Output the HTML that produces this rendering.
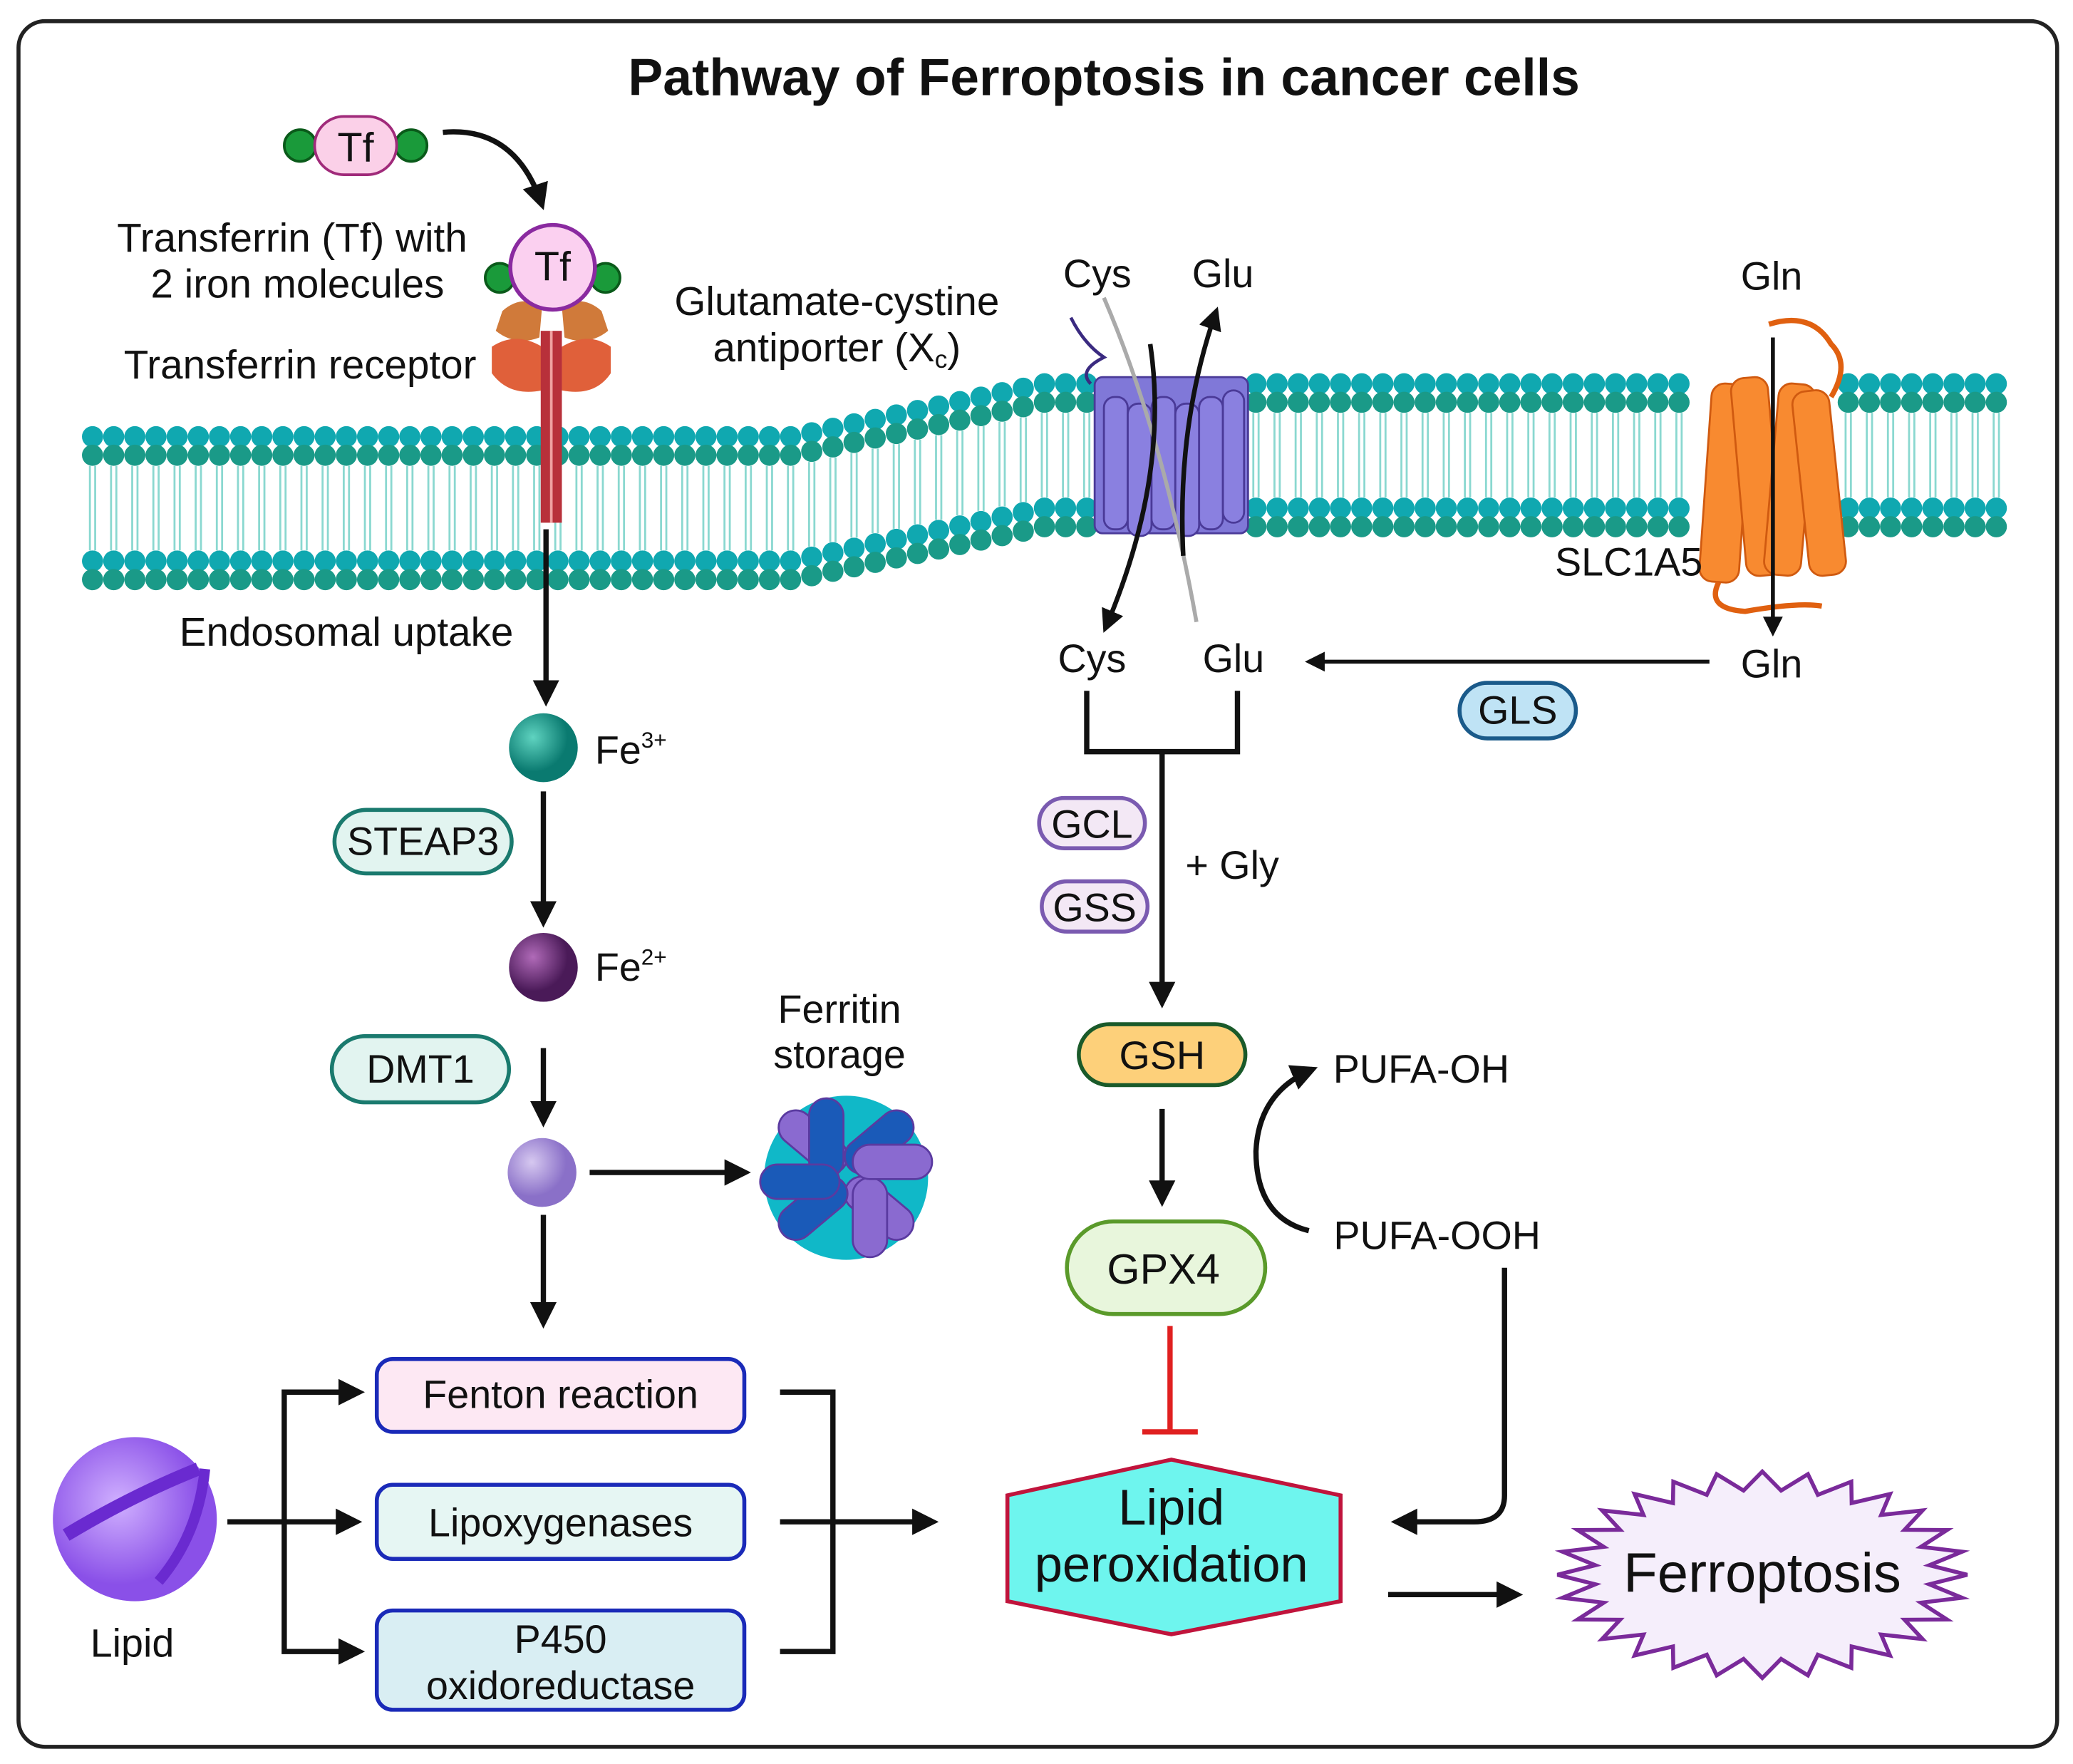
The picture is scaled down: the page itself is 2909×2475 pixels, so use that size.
<!DOCTYPE html>
<html><head><meta charset="utf-8"><style>
html,body{margin:0;padding:0;background:#fff}
svg{display:block}
text{font-family:"Liberation Sans",sans-serif;fill:#111}
</style></head><body>
<svg id="s" width="2909" height="2475" viewBox="0 0 1568 1333" preserveAspectRatio="none" xmlns="http://www.w3.org/2000/svg">
<defs>
<marker id="a" viewBox="0 0 10 10" refX="8" refY="5" markerWidth="5" markerHeight="5" orient="auto"><path d="M0,0L10,5L0,10z" fill="#111"/></marker>
<radialGradient id="g1" cx="35%" cy="35%"><stop offset="0" stop-color="#5fd3c0"/><stop offset="1" stop-color="#0a7a70"/></radialGradient>
<radialGradient id="g2" cx="35%" cy="35%"><stop offset="0" stop-color="#b06ab8"/><stop offset="1" stop-color="#4a1a58"/></radialGradient>
<radialGradient id="g3" cx="35%" cy="35%"><stop offset="0" stop-color="#d6c8f0"/><stop offset="1" stop-color="#8a70c8"/></radialGradient>
<radialGradient id="g4" cx="40%" cy="40%"><stop offset="0" stop-color="#d0b0ff"/><stop offset="1" stop-color="#8a50e8"/></radialGradient>
</defs>
<rect x="14" y="16" width="1542" height="1304" rx="20" fill="#fff" stroke="#222" stroke-width="3"/>
<text x="835" y="72" font-size="39.5" font-weight="bold" text-anchor="middle">Pathway of Ferroptosis in cancer cells</text>
<g id="mem"></g>

<circle cx="227" cy="110" r="12" fill="#1a9a3a" stroke="#0a5a1a" stroke-width="2"/>
<circle cx="311" cy="110" r="12" fill="#1a9a3a" stroke="#0a5a1a" stroke-width="2"/>
<rect x="238" y="88" width="62" height="44" rx="22" fill="#fbd0e8" stroke="#a02a7a" stroke-width="2"/>
<text x="269" y="122" font-size="31" text-anchor="middle">Tf</text>
<path d="M335,100 Q390,95 410,155" fill="none" stroke="#111" stroke-width="4" marker-end="url(#a)"/>
<path d="M380,235 Q395,222 410,232 L408,255 Q390,262 375,250z M455,235 Q440,222 425,232 L427,255 Q445,262 460,250z" fill="#d07a3a"/>
<path d="M372,262 Q390,250 410,262 L410,295 Q385,300 372,282z M462,262 Q445,250 425,262 L425,295 Q450,300 462,282z" fill="#e0603a"/>
<rect x="409" y="250" width="16" height="145" fill="#b8303a"/>
<line x1="417" y1="250" x2="417" y2="395" stroke="#f0a0a0" stroke-width="2"/>
<circle cx="378" cy="210" r="11" fill="#1a9a3a" stroke="#0a5a1a" stroke-width="2"/>
<circle cx="458" cy="210" r="11" fill="#1a9a3a" stroke="#0a5a1a" stroke-width="2"/>
<circle cx="418" cy="202" r="32" fill="#fbd0f0" stroke="#8a2aa0" stroke-width="3"/>
<text x="418" y="212" font-size="31" text-anchor="middle">Tf</text>
<text x="221" y="190" font-size="30.5" text-anchor="middle">Transferrin (Tf) with</text>
<text x="225" y="225" font-size="30.5" text-anchor="middle">2 iron molecules</text>
<text x="227" y="286" font-size="30.5" text-anchor="middle">Transferrin receptor</text>

<line x1="413" y1="400" x2="413" y2="530" stroke="#111" stroke-width="4" marker-end="url(#a)"/>
<text x="262" y="488" font-size="30.5" text-anchor="middle">Endosomal uptake</text>
<circle cx="411" cy="565" r="26" fill="url(#g1)"/>
<text x="450" y="577" font-size="30">Fe<tspan font-size="17" dy="-12">3+</tspan></text>
<rect x="253" y="612" width="134" height="48" rx="24" fill="#e2f4f0" stroke="#1a7a6e" stroke-width="3"/>
<text x="320" y="646" font-size="30" text-anchor="middle">STEAP3</text>
<line x1="411" y1="598" x2="411" y2="697" stroke="#111" stroke-width="4" marker-end="url(#a)"/>
<circle cx="411" cy="731" r="26" fill="url(#g2)"/>
<text x="450" y="741" font-size="30">Fe<tspan font-size="17" dy="-12">2+</tspan></text>
<rect x="251" y="783" width="134" height="50" rx="25" fill="#e2f4f0" stroke="#1a7a6e" stroke-width="3"/>
<text x="318" y="818" font-size="30" text-anchor="middle">DMT1</text>
<line x1="411" y1="792" x2="411" y2="848" stroke="#111" stroke-width="4" marker-end="url(#a)"/>
<circle cx="410" cy="886" r="26" fill="url(#g3)"/>
<line x1="446" y1="886" x2="564" y2="886" stroke="#111" stroke-width="4" marker-end="url(#a)"/>
<line x1="411" y1="918" x2="411" y2="1000" stroke="#111" stroke-width="4" marker-end="url(#a)"/>
<text x="635" y="773" font-size="30" text-anchor="middle">Ferritin</text>
<text x="635" y="807" font-size="30" text-anchor="middle">storage</text>
<g>
<circle cx="640" cy="890" r="62" fill="#10b8c8"/>
<g stroke="#5a3aa0" stroke-width="1.5">
<rect x="585" y="850" width="60" height="26" rx="13" fill="#8a6ad0" transform="rotate(40 615 863)"/>
<rect x="635" y="900" width="60" height="26" rx="13" fill="#8a6ad0" transform="rotate(40 665 913)"/>
<rect x="635" y="850" width="60" height="26" rx="13" fill="#1a5ab8" transform="rotate(-40 665 863)"/>
<rect x="585" y="900" width="60" height="26" rx="13" fill="#1a5ab8" transform="rotate(-40 615 913)"/>
<rect x="612" y="830" width="26" height="60" rx="13" fill="#1a5ab8"/>
<rect x="645" y="890" width="26" height="60" rx="13" fill="#8a6ad0"/>
<rect x="575" y="880" width="60" height="26" rx="13" fill="#1a5ab8"/>
<rect x="645" y="865" width="60" height="26" rx="13" fill="#8a6ad0"/>
</g></g>

<rect x="285" y="1027" width="278" height="55" rx="12" fill="#fde8f3" stroke="#1a2ab8" stroke-width="3"/>
<text x="424" y="1064" font-size="30" text-anchor="middle">Fenton reaction</text>
<rect x="285" y="1122" width="278" height="56" rx="12" fill="#e6f6f3" stroke="#1a2ab8" stroke-width="3"/>
<text x="424" y="1161" font-size="30" text-anchor="middle">Lipoxygenases</text>
<rect x="285" y="1217" width="278" height="75" rx="12" fill="#d9eef3" stroke="#1a2ab8" stroke-width="3"/>
<text x="424" y="1249" font-size="30" text-anchor="middle">P450</text>
<text x="424" y="1284" font-size="30" text-anchor="middle">oxidoreductase</text>
<circle cx="102" cy="1148" r="62" fill="url(#g4)"/>
<path d="M50,1160 Q100,1130 150,1110" stroke="#6a2ad0" stroke-width="10" fill="none"/>
<path d="M155,1110 Q150,1160 120,1195" stroke="#6a2ad0" stroke-width="8" fill="none"/>
<text x="100" y="1252" font-size="30" text-anchor="middle">Lipid</text>
<line x1="172" y1="1150" x2="270" y2="1150" stroke="#111" stroke-width="4" marker-end="url(#a)"/>
<path d="M270,1052 L215,1052 L215,1248 L270,1248" fill="none" stroke="#111" stroke-width="4"/>
<line x1="250" y1="1052" x2="272" y2="1052" stroke="#111" stroke-width="4" marker-end="url(#a)"/>
<line x1="250" y1="1248" x2="272" y2="1248" stroke="#111" stroke-width="4" marker-end="url(#a)"/>
<path d="M590,1052 L630,1052 L630,1248 L590,1248" fill="none" stroke="#111" stroke-width="4"/>
<line x1="590" y1="1150" x2="706" y2="1150" stroke="#111" stroke-width="4" marker-end="url(#a)"/>

<polygon points="762,1130 886,1103 1014,1130 1014,1210 886,1235 762,1210" fill="#6ef5ee" stroke="#c0143c" stroke-width="3"/>
<text x="886" y="1152" font-size="38" text-anchor="middle">Lipid</text>
<text x="886" y="1195" font-size="38" text-anchor="middle">peroxidation</text>
<line x1="1050" y1="1205" x2="1148" y2="1205" stroke="#111" stroke-width="4" marker-end="url(#a)"/>
<polygon id="star" fill="#f5eefb" stroke="#7a2a9a" stroke-width="3"/>
<text x="1333" y="1203" font-size="42" text-anchor="middle">Ferroptosis</text>

<g stroke="#4a3a98" stroke-width="1.5" fill="#8a80e0">
<path d="M810,240 Q820,260 835,270 Q815,280 825,290" fill="none" stroke="#3a2a80" stroke-width="2.5"/>
<rect x="828" y="285" width="116" height="118" rx="6" fill="#8078d8"/>
<rect x="835" y="300" width="18" height="100" rx="8"/>
<rect x="853" y="305" width="18" height="100" rx="8"/>
<rect x="871" y="300" width="18" height="100" rx="8"/>
<rect x="889" y="305" width="18" height="100" rx="8"/>
<rect x="907" y="300" width="18" height="100" rx="8"/>
<rect x="925" y="295" width="16" height="100" rx="8"/>
</g>
<path d="M835,225 Q880,330 905,470" fill="none" stroke="#aaa" stroke-width="3"/>
<path d="M870,260 Q885,360 836,475" fill="none" stroke="#111" stroke-width="3.5" marker-end="url(#a)"/>
<path d="M895,420 Q890,320 920,235" fill="none" stroke="#111" stroke-width="3.5" marker-end="url(#a)"/>
<text x="830" y="217" font-size="30" text-anchor="middle">Cys</text>
<text x="925" y="217" font-size="30" text-anchor="middle">Glu</text>
<text x="633" y="238" font-size="30.5" text-anchor="middle">Glutamate-cystine</text>
<text x="633" y="273" font-size="30.5" text-anchor="middle">antiporter (X<tspan font-size="19" dy="5">c</tspan><tspan dy="-5">)</tspan></text>

<g fill="#f88a30" stroke="#d05a10" stroke-width="1.5">
<path d="M1338,245 Q1370,235 1385,260 Q1400,275 1385,300" fill="none" stroke="#e06010" stroke-width="4"/>
<rect x="1290" y="290" width="30" height="150" rx="10" transform="rotate(4 1305 365)"/>
<rect x="1315" y="285" width="28" height="150" rx="10" transform="rotate(-5 1330 360)"/>
<rect x="1340" y="290" width="28" height="145" rx="10" transform="rotate(5 1355 360)"/>
<rect x="1362" y="295" width="28" height="140" rx="10" transform="rotate(-6 1376 365)"/>
<path d="M1300,440 Q1290,460 1320,462 Q1360,455 1378,458" fill="none" stroke="#e06010" stroke-width="4"/>
</g>
<line x1="1341" y1="255" x2="1341" y2="478" stroke="#111" stroke-width="3" marker-end="url(#a)"/>
<text x="1340" y="219" font-size="30" text-anchor="middle">Gln</text>
<text x="1232" y="435" font-size="30" text-anchor="middle">SLC1A5</text>

<text x="826" y="508" font-size="30" text-anchor="middle">Cys</text>
<text x="933" y="508" font-size="30" text-anchor="middle">Glu</text>
<text x="1340" y="512" font-size="30" text-anchor="middle">Gln</text>
<line x1="1293" y1="500" x2="990" y2="500" stroke="#111" stroke-width="3" marker-end="url(#a)"/>
<rect x="1104" y="516" width="88" height="42" rx="21" fill="#bfe3f5" stroke="#1a5a8a" stroke-width="3"/>
<text x="1148" y="547" font-size="30" text-anchor="middle">GLS</text>
<path d="M822,522 L822,568 L936,568 L936,522" fill="none" stroke="#111" stroke-width="4"/>
<line x1="879" y1="568" x2="879" y2="758" stroke="#111" stroke-width="4" marker-end="url(#a)"/>
<rect x="786" y="603" width="80" height="38" rx="19" fill="#f3e8f5" stroke="#7a5ab0" stroke-width="3"/>
<text x="826" y="633" font-size="30" text-anchor="middle">GCL</text>
<rect x="788" y="666" width="80" height="38" rx="19" fill="#f3e8f5" stroke="#7a5ab0" stroke-width="3"/>
<text x="828" y="696" font-size="30" text-anchor="middle">GSS</text>
<text x="932" y="664" font-size="30" text-anchor="middle">+ Gly</text>
<rect x="816" y="774" width="126" height="46" rx="23" fill="#fdd07a" stroke="#1a5a2a" stroke-width="3"/>
<text x="879" y="808" font-size="30" text-anchor="middle">GSH</text>
<line x1="879" y1="838" x2="879" y2="908" stroke="#111" stroke-width="4" marker-end="url(#a)"/>
<rect x="807" y="923" width="150" height="70" rx="35" fill="#e8f6dc" stroke="#5a9a2a" stroke-width="3"/>
<text x="880" y="970" font-size="32" text-anchor="middle">GPX4</text>
<line x1="885" y1="1002" x2="885" y2="1082" stroke="#e02020" stroke-width="4"/>
<line x1="864" y1="1082" x2="906" y2="1082" stroke="#e02020" stroke-width="4"/>
<text x="1075" y="818" font-size="30" text-anchor="middle">PUFA-OH</text>
<text x="1087" y="944" font-size="30" text-anchor="middle">PUFA-OOH</text>
<path d="M990,930 Q950,920 950,870 Q952,825 993,808" fill="none" stroke="#111" stroke-width="4" marker-end="url(#a)"/>
<path d="M1138,958 L1138,1130 Q1138,1150 1115,1150 L1056,1150" fill="none" stroke="#111" stroke-width="4" marker-end="url(#a)"/>
</svg>
<script>
(function(){
var g=document.getElementById("mem"),h="";
function off(x){if(x<600)return 0;if(x>790)return -40;return -40*(x-600)/190;}
for(var x=70;x<=1520;x+=16){
 if(x>825&&x<945)continue;
 if(x>1285&&x<1395)continue;
 var o=off(x);
 h+='<line x1="'+(x-2)+'" y1="'+(352+o)+'" x2="'+(x-2)+'" y2="'+(416+o)+'" stroke="#8ad8d0" stroke-width="1.5"/>';
 h+='<line x1="'+(x+2)+'" y1="'+(352+o)+'" x2="'+(x+2)+'" y2="'+(416+o)+'" stroke="#8ad8d0" stroke-width="1.5"/>';
 h+='<circle cx="'+x+'" cy="'+(330+o)+'" r="8" fill="#10a8b0"/>';
 h+='<circle cx="'+x+'" cy="'+(344+o)+'" r="8" fill="#1a9a88"/>';
 h+='<circle cx="'+x+'" cy="'+(424+o)+'" r="8" fill="#10a8b0"/>';
 h+='<circle cx="'+x+'" cy="'+(438+o)+'" r="8" fill="#1a9a88"/>';
}
g.innerHTML=h;
var p=[],n=28,cx=1333,cy=1190;
for(var i=0;i<n*2;i++){var a=Math.PI*i/n,r=(i%2)?0.82:1;p.push((cx+155*r*Math.cos(a)).toFixed(1)+","+(cy+78*r*Math.sin(a)).toFixed(1));}
document.getElementById("star").setAttribute("points",p.join(" "));
})();
</script>
</body></html>
